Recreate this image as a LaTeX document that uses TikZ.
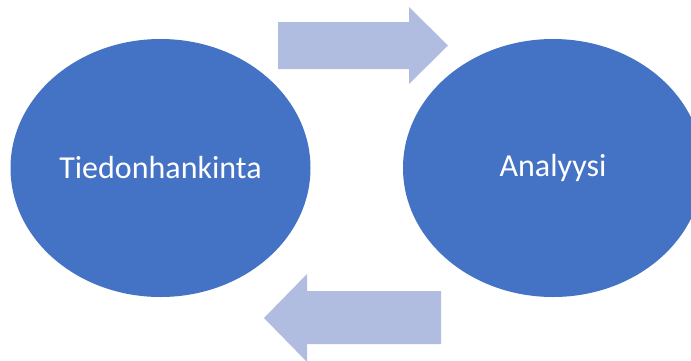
\documentclass[tikz,border=0pt]{standalone}
\usepackage{fontspec}
\usetikzlibrary{shapes.geometric}
\setmainfont{Carlito}
\definecolor{blob}{HTML}{4472C4}
\definecolor{arrowfill}{HTML}{B0BDE0}
\begin{document}
\begin{tikzpicture}[x=1pt,y=-1pt,
  blobstyle/.style={ellipse, fill=blob, draw=none, minimum width=300pt, minimum height=258pt, inner sep=0pt, text=white, font=\fontsize{32}{38}\selectfont},
  arrowshape/.style={fill=arrowfill, draw=none}]
\useasboundingbox (0,0) rectangle (691,360);
\begin{scope}
\clip (0,0) rectangle (691,360);
\node[blobstyle] (tied) at (160.5,168) {Tiedonhankinta};
\node[blobstyle] (anal) at (553,168) {Analyysi};
\fill[arrowshape] (278,22) -- (409,22) -- (409,7) -- (448,45.5) -- (409,84) -- (409,69) -- (278,69) -- cycle;
\fill[arrowshape] (441,291) -- (307,291) -- (307,274) -- (264,318) -- (307,362) -- (307,344) -- (441,344) -- cycle;
\end{scope}
\end{tikzpicture}
\end{document}
